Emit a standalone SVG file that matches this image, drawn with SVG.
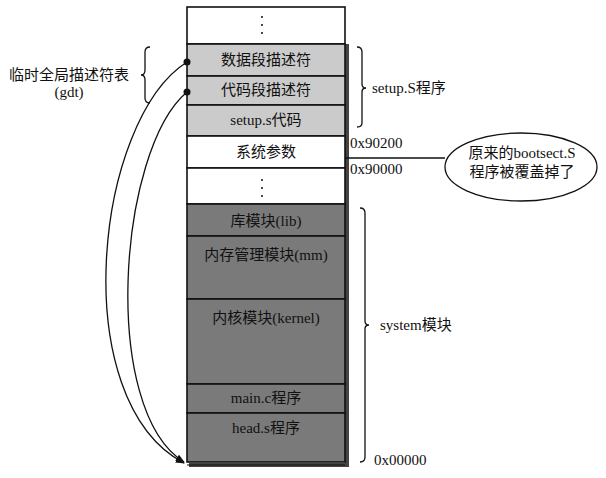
<svg xmlns="http://www.w3.org/2000/svg" width="606" height="478" viewBox="0 0 606 478">
<style>
text{font-family:"Liberation Serif","Noto Sans CJK SC",serif;font-size:15px;fill:#111;}
.c{text-anchor:middle;}
.cell{stroke:#111;stroke-width:1.6;}
.white{fill:#fff;}
.light{fill:#cbcbcb;}
.dark{fill:#7a7a7a;}
.line{fill:none;stroke:#111;stroke-width:1.3;}
.dot{fill:#111;}
</style>
<defs>
<marker id="arr" viewBox="0 0 10 10" refX="9" refY="5" markerWidth="9" markerHeight="9" orient="auto" markerUnits="userSpaceOnUse">
<path d="M0,1 L10,5 L0,9 Z" fill="#111"/>
</marker>
</defs>
<rect width="606" height="478" fill="#fff"/>
<!-- shadow -->
<rect x="345" y="44" width="4" height="423" fill="#444"/>
<rect x="189" y="463" width="160" height="4" fill="#444"/>
<g id="row-top"><rect class="cell white" x="187" y="7" width="158" height="37"/>
<circle class="dot" cx="262" cy="17" r="1"/><circle class="dot" cx="262" cy="25" r="1"/><circle class="dot" cx="262" cy="33" r="1"/></g>
<g id="row-data"><rect class="cell light" x="187" y="44" width="158" height="32"/><text class="c" x="266" y="65">数据段描述符</text></g>
<g id="row-code"><rect class="cell light" x="187" y="76" width="158" height="29"/><text class="c" x="266" y="95">代码段描述符</text></g>
<g id="row-setup"><rect class="cell light" x="187" y="105" width="158" height="31"/><text class="c" x="266" y="125">setup.s代码</text></g>
<g id="row-params"><rect class="cell white" x="187" y="136" width="158" height="32"/><text class="c" x="266" y="157">系统参数</text></g>
<g id="row-blank"><rect class="cell white" x="187" y="168" width="158" height="36"/>
<circle class="dot" cx="262" cy="180" r="1"/><circle class="dot" cx="262" cy="188" r="1"/><circle class="dot" cx="262" cy="196" r="1"/></g>
<g id="row-lib"><rect class="cell dark" x="187" y="204" width="158" height="32"/><text class="c" x="266" y="226">库模块(lib)</text></g>
<g id="row-mm"><rect class="cell dark" x="187" y="236" width="158" height="63"/><text class="c" x="266" y="260">内存管理模块(mm)</text></g>
<g id="row-kernel"><rect class="cell dark" x="187" y="299" width="158" height="85"/><text class="c" x="266" y="323">内核模块(kernel)</text></g>
<g id="row-main"><rect class="cell dark" x="187" y="384" width="158" height="29"/><text class="c" x="266" y="403">main.c程序</text></g>
<g id="row-head"><rect class="cell dark" x="187" y="413" width="158" height="49"/><text class="c" x="266" y="433">head.s程序</text>
<line x1="187" y1="465" x2="345" y2="465" stroke="#111" stroke-width="1.2"/></g>

<g id="gdt-label">
<text class="c" x="69" y="80">临时全局描述符表</text>
<text class="c" x="69" y="97">(gdt)</text>
<path class="line" d="M150,47 Q145,47 145,52 L145,70 Q145,75 141,75 Q145,75 145,80 L145,98 Q145,103 150,103"/>
</g>
<g id="setup-label">
<path class="line" d="M357,47 Q362,47 362,52 L362,84 Q362,88 366,88 Q362,88 362,92 L362,123 Q362,127 357,127"/>
<text x="372" y="93">setup.S程序</text>
</g>
<g id="addr-90200"><text x="350" y="148">0x90200</text></g>
<g id="addr-90000"><text x="350" y="174">0x90000</text></g>
<g id="note">
<ellipse cx="521" cy="167" rx="76" ry="34" fill="#fff" stroke="#111" stroke-width="1.3"/>
<text class="c" x="522" y="158">原来的bootsect.S</text>
<text class="c" x="522" y="177">程序被覆盖掉了</text>
</g>
<g id="system-label">
<path class="line" d="M360,208 Q365,208 365,213 L365,321 Q365,325 369,325 Q365,325 365,329 L365,457 Q365,462 360,462"/>
<text x="380" y="330">system模块</text>
</g>
<g id="addr-00000"><text x="374" y="465">0x00000</text></g>

<g id="connectors">
<line class="line" x1="345" y1="158" x2="445" y2="158"/>
<circle class="dot" cx="187" cy="62" r="3.5"/>
<circle class="dot" cx="187" cy="92" r="3.5"/>
<path class="line" d="M187,62 C95,120 65,400 184,463" marker-end="url(#arr)"/>
<path class="line" d="M187,92 C118,150 100,410 184,462" marker-end="url(#arr)"/>
</g>
</svg>
